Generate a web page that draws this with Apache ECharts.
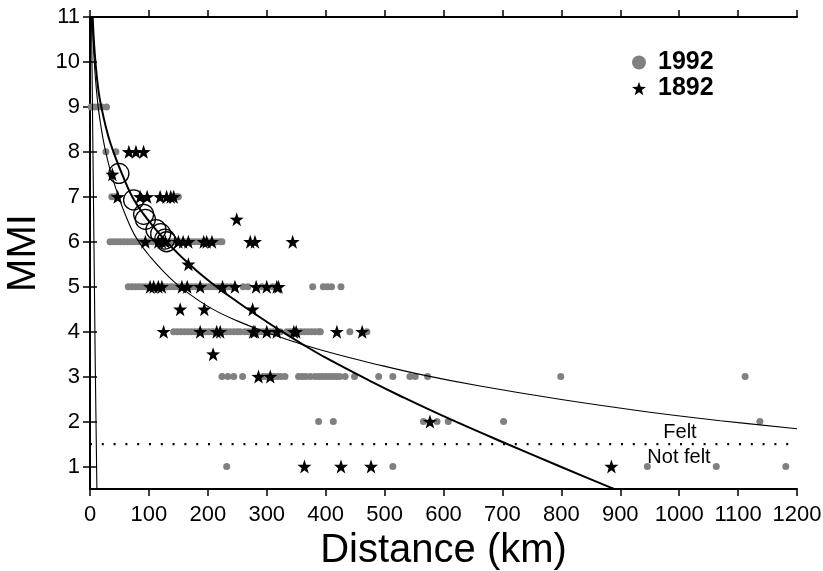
<!DOCTYPE html>
<html><head><meta charset="utf-8">
<script src="https://cdn.jsdelivr.net/npm/echarts@6/dist/echarts.min.js"></script>
<style>html,body{margin:0;padding:0;background:#fff}#c{width:823px;height:571px}</style>
</head><body><div id="c"></div>
<script>
// ---- tick labels ----
const xTicks = [0,100,200,300,400,500,600,700,800,900,1000,1100,1200];
const yTicks = [1,2,3,4,5,6,7,8,9,10,11];

// ---- 1992 observations (distance km) per MMI row ----
const g1992_9 = [2, 8, 14, 20, 28];
const g1992_8 = [27, 44];
const g1992_7 = [37, 43, 146, 150];
const g1992_6 = [34,40,46,52,58,64,70,76,82,88,94,100,106,112,118,124,130,136,142,148,154,160,166,172,178,184,190,196,202,208,214,220,224];
const g1992_5 = [65,71,77,83,89,95,101,107,113,119,125,131,137,143,149,155,161,167,173,179,185,191,197,203,209,215,221,227,233,239,246,260,268,292,310,378,396,403,410,426];
const g1992_4 = [142,148,154,160,166,172,178,184,190,196,202,208,214,220,226,232,238,244,250,255,263,269,275,281,287,293,299,305,311,317,323,334,340,346,352,358,364,370,376,382,388,391,441,470];
const g1992_3 = [224,234,244,259,294,300,306,312,318,324,331,354,360,366,374,382,388,394,400,406,412,418,424,433,449,490,514,543,552,573,799,1112];
const g1992_2 = [388,413,566,589,608,702,1137];
const g1992_1 = [232,514,946,1063,1181];

// ---- 1892 observations (distance km) per MMI level ----
const s1892_8 = [66,78,91];
const s1892_75 = [38];
const s1892_7 = [47,85,97,119,130,137,142];
const s1892_65 = [249];
const s1892_6 = [94,116,122,128,150,158,167,193,198,207,272,280,344];
const s1892_55 = [167];
const s1892_5 = [102,108,116,122,156,165,187,225,246,282,300,317,320];
const s1892_45 = [153,194,276];
const s1892_4 = [125,187,215,221,277,280,300,317,346,350,419,462];
const s1892_35 = [209];
const s1892_3 = [286,306];
const s1892_2 = [577];
const s1892_1 = [364,426,477,885];

// ---- open circles (km, MMI) ----
const circleKm  = [49, 74, 91, 94, 112, 120, 127, 130];
const circleMmi = [7.52, 6.93, 6.61, 6.50, 6.27, 6.18, 6.06, 6.0];

// ---- curves ----
const thickKm  = [4.5,6,8,11,15,20,27,34,44,54,71,90,110,130,150,167,190,221,250,272,300,323,360,400,475,526,600,701,800,884,895];
const thickMmi = [11,10.6,10.2,9.75,9.3,8.95,8.55,8.22,7.85,7.52,7.02,6.63,6.3,6.0,5.73,5.52,5.255,4.935,4.665,4.465,4.22,4.025,3.725,3.42,2.905,2.575,2.12,1.54,0.99,0.53,0.47];
const thinKm   = [3.5,4.5,6,9,13,17,22,28,35,46,60,77,100,142,198,250,311,362,420,475,560,662,800,944,1070,1200];
const thinMmi  = [11,10.7,10.3,9.67,9.1,8.7,8.3,7.92,7.56,7.1,6.6,6.12,5.7,5.12,4.58,4.24,3.93,3.71,3.49,3.31,3.05,2.79,2.49,2.22,2.02,1.84];
const steepKm  = [2.5,6.1,8.8,11.7];
const steepMmi = [11,6.7,3.4,0.5];
const feltKm   = [0,1200];
const feltMmi  = [1.5,1.5];

const STAR = 'path://M0,-10L2.35,-3.24L9.51,-3.09L3.8,1.24L5.88,8.09L0,4L-5.88,8.09L-3.8,1.24L-9.51,-3.09L-2.35,-3.24Z';
const FONT = 'Liberation Sans';

function rows(list){ const out=[]; list.forEach(([m,arr])=>arr.forEach(k=>out.push([k,m]))); return out; }
function pairs(a,b){ return a.map((v,i)=>[v,b[i]]); }

const grayData = rows([[9,g1992_9],[8,g1992_8],[7,g1992_7],[6,g1992_6],[5,g1992_5],[4,g1992_4],[3,g1992_3],[2,g1992_2],[1,g1992_1]]);
const starData = rows([[8,s1892_8],[7.5,s1892_75],[7,s1892_7],[6.5,s1892_65],[6,s1892_6],[5.5,s1892_55],[5,s1892_5],[4.5,s1892_45],[4,s1892_4],[3.5,s1892_35],[3,s1892_3],[2,s1892_2],[1,s1892_1]]);

const chart = echarts.init(document.getElementById('c'), null, {renderer:'canvas'});
const tickStyle = {show:true, inside:false, length:7, lineStyle:{color:'#000', width:1.5}};
const lineAx = {show:true, lineStyle:{color:'#000', width:2}};
chart.setOption({
  animation:false,
  backgroundColor:'#fff',
  textStyle:{fontFamily:FONT},
  grid:{left:90, right:26, top:17, bottom:82, show:false, containLabel:false, outerBoundsMode:'none'},
  legend:{
    data:[{name:'1992', icon:'circle'},{name:'1892', icon:STAR}],
    orient:'vertical', left:627, top:45, itemWidth:14, itemHeight:14, itemGap:1,
    textStyle:{fontFamily:FONT, fontSize:25, fontWeight:'bold', color:'#000', padding:[0,0,0,7]}
  },
  xAxis:[
    {type:'value', min:0, max:1200, interval:100, position:'bottom',
     axisLine:lineAx, axisTick:tickStyle, splitLine:{show:false},
     axisLabel:{fontSize:22, color:'#000', margin:15, fontFamily:FONT,
       formatter:v=>xTicks.includes(v)?String(v):''},
     name:'Distance (km)', nameLocation:'middle', nameGap:34,
     nameTextStyle:{fontSize:40, color:'#000', fontFamily:FONT, verticalAlign:'top'}},
    {type:'value', min:0, max:1200, interval:100, position:'top',
     axisLine:lineAx, axisTick:tickStyle, splitLine:{show:false}, axisLabel:{show:false}}
  ],
  yAxis:[
    {type:'value', min:0.5, max:11, position:'left',
     axisLine:lineAx, splitLine:{show:false},
     axisTick:Object.assign({customValues:yTicks}, tickStyle),
     axisLabel:{customValues:yTicks, fontSize:22, color:'#000', margin:10, fontFamily:FONT},
     name:'MMI', nameLocation:'middle', nameGap:46,
     nameTextStyle:{fontSize:40, color:'#000', fontFamily:FONT}},
    {type:'value', min:0.5, max:11, position:'right',
     axisLine:lineAx, splitLine:{show:false},
     axisTick:Object.assign({customValues:yTicks}, tickStyle),
     axisLabel:{show:false}}
  ],
  series:[
    {name:'1992', type:'scatter', data:grayData, symbol:'circle', symbolSize:7,
     itemStyle:{color:'#808080', opacity:1}, z:2},
    {name:'1892', type:'scatter', data:starData, symbol:STAR, symbolSize:14,
     itemStyle:{color:'#000', opacity:1}, z:3},
    {name:'thin', type:'line', data:pairs(thinKm,thinMmi), showSymbol:false, smooth:0.4,
     lineStyle:{color:'#000', width:1.1}, z:4, silent:true},
    {name:'thick', type:'line', data:pairs(thickKm,thickMmi), showSymbol:false, smooth:0.4,
     lineStyle:{color:'#000', width:2}, z:4, silent:true},
    {name:'steep', type:'line', data:pairs(steepKm,steepMmi), showSymbol:false,
     lineStyle:{color:'#000', width:1.1}, z:4, silent:true},
    {name:'felt', type:'line', data:pairs(feltKm,feltMmi), showSymbol:false,
     lineStyle:{color:'#000', width:2.2, type:[2,9.8], dashOffset:0}, z:4, silent:true},
    {name:'circles', type:'scatter', data:pairs(circleKm,circleMmi), symbol:'circle', symbolSize:20,
     itemStyle:{color:'rgba(0,0,0,0)', borderColor:'#000', borderWidth:1.3, opacity:1}, z:5}
  ],
  graphic:[
    {type:'text', x:680, y:432, style:{text:'Felt', fontSize:20, fontFamily:FONT, fill:'#000', align:'center', verticalAlign:'middle'}, z:10},
    {type:'text', x:679, y:457, style:{text:'Not felt', fontSize:20, fontFamily:FONT, fill:'#000', align:'center', verticalAlign:'middle'}, z:10}
  ]
});
</script></body></html>
